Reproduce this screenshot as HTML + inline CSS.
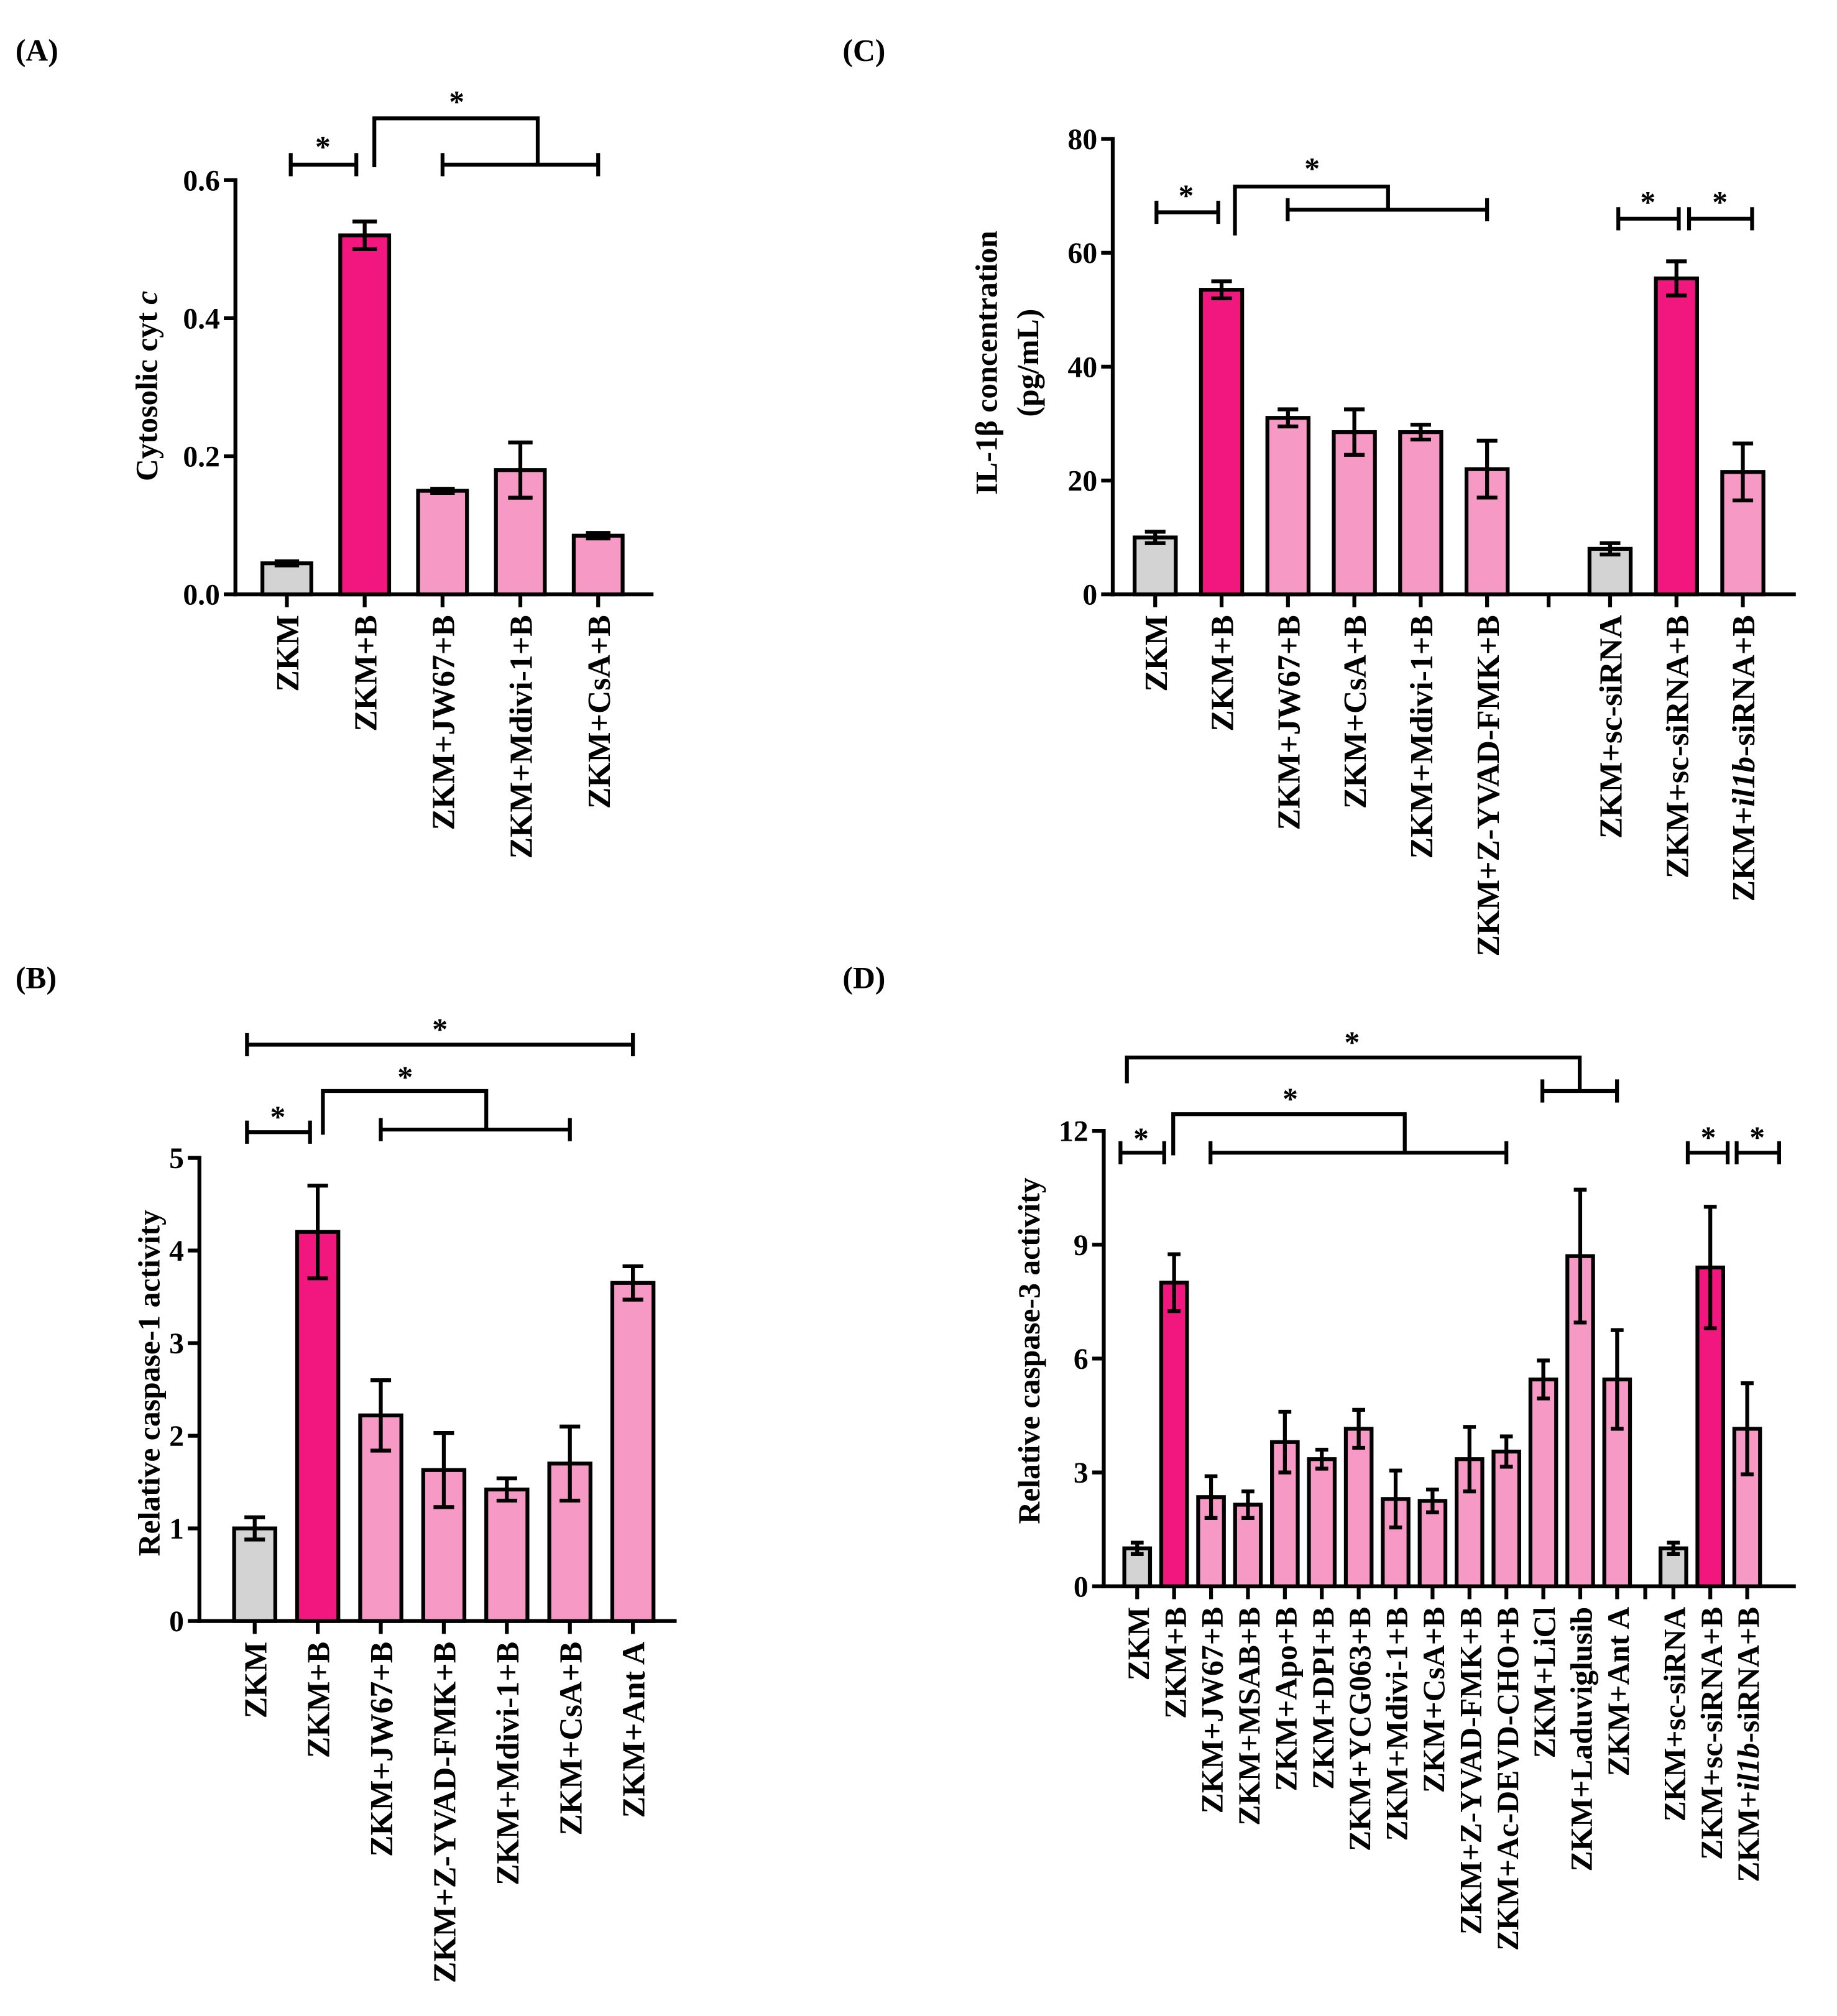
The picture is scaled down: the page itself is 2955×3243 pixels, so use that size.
<!DOCTYPE html>
<html><head><meta charset="utf-8"><style>
html,body{margin:0;padding:0;background:#fff;}
svg{display:block;font-family:"Liberation Serif",serif;font-weight:bold;}
</style></head><body>
<svg id="fig" width="2955" height="3243" viewBox="0 0 1428 1567" preserveAspectRatio="none" xmlns="http://www.w3.org/2000/svg">
<text x="12" y="47" font-size="24">(A)</text>
<text x="655" y="47" font-size="24">(C)</text>
<text x="12" y="768" font-size="24">(B)</text>
<text x="655" y="768" font-size="24">(D)</text>
</svg>
<script>
// Panel A data
const catsA=["ZKM","ZKM+B","ZKM+JW67+B","ZKM+Mdivi-1+B","ZKM+CsA+B"];
const valsA=[0.045,0.52,0.15,0.18,0.085];
const errA=[0.003,0.02,0.003,0.04,0.004];
const ticksA=[0,0.2,0.4,0.6];
const tickLabA=["0.0","0.2","0.4","0.6"];
// Panel C data
const catsC=["ZKM","ZKM+B","ZKM+JW67+B","ZKM+CsA+B","ZKM+Mdivi-1+B","ZKM+Z-YVAD-FMK+B","ZKM+sc-siRNA","ZKM+sc-siRNA+B","ZKM+il1b-siRNA+B"];
const valsC=[10,53.5,31,28.5,28.5,22,8,55.5,21.5];
const errC=[1,1.5,1.5,4,1.3,5,1,3,5];
const ticksC=[0,20,40,60,80];
const tickLabC=["0","20","40","60","80"];
// Panel B data
const catsB=["ZKM","ZKM+B","ZKM+JW67+B","ZKM+Z-YVAD-FMK+B","ZKM+Mdivi-1+B","ZKM+CsA+B","ZKM+Ant A"];
const valsB=[1,4.2,2.22,1.63,1.42,1.7,3.65];
const errB=[0.12,0.5,0.38,0.4,0.12,0.4,0.18];
const ticksB=[0,1,2,3,4,5];
const tickLabB=["0","1","2","3","4","5"];
// Panel D data
const catsD=["ZKM","ZKM+B","ZKM+JW67+B","ZKM+MSAB+B","ZKM+Apo+B","ZKM+DPI+B","ZKM+YCG063+B","ZKM+Mdivi-1+B","ZKM+CsA+B","ZKM+Z-YVAD-FMK+B","ZKM+Ac-DEVD-CHO+B","ZKM+LiCl","ZKM+Laduviglusib","ZKM+Ant A","ZKM+sc-siRNA","ZKM+sc-siRNA+B","ZKM+il1b-siRNA+B"];
const valsD=[1,8,2.35,2.15,3.8,3.35,4.15,2.3,2.25,3.35,3.55,5.45,8.7,5.45,1,8.4,4.15];
const errD=[0.15,0.75,0.55,0.35,0.8,0.25,0.5,0.75,0.3,0.85,0.4,0.5,1.75,1.3,0.15,1.6,1.2];
const ticksD=[0,3,6,9,12];
const tickLabD=["0","3","6","9","12"];

const NS="http://www.w3.org/2000/svg";
const svg=document.getElementById('fig');
function mk(tag,attrs,parent){const e=document.createElementNS(NS,tag);for(const k in attrs)e.setAttribute(k,attrs[k]);(parent||svg).appendChild(e);return e;}
const GRAY="#d3d3d3",HOT="#f2177f",LIGHT="#f799c5";
function colorFor(c){if(c==="ZKM"||c==="ZKM+sc-siRNA")return GRAY;if(c==="ZKM+B"||c==="ZKM+sc-siRNA+B")return HOT;return LIGHT;}

function chart(cfg,cats,vals,errs,ticks,tickLabs){
  const g=mk('g',{});
  
  
  const y=v=>cfg.y0-(v-ticks[0])/(ticks[ticks.length-1]-ticks[0])*(cfg.y0-cfg.yTop);
  const x=i=>cfg.x0+cfg.first+i*cfg.step+(cfg.gapAt!==undefined&&i>=cfg.gapAt?cfg.gap:0);
  const ya=mk('line',{x1:cfg.x0,y1:cfg.y0+1.5,x2:cfg.x0,y2:y(ticks[ticks.length-1])-1.5,stroke:'#000','stroke-width':3},g);
  
  
  const xa=mk('line',{x1:cfg.x0-1.5,y1:cfg.y0,x2:cfg.xEnd,y2:cfg.y0,stroke:'#000','stroke-width':3},g);
  
  
  ticks.forEach((t,i)=>{
    mk('line',{x1:cfg.x0-9,y1:y(t),x2:cfg.x0,y2:y(t),stroke:'#000','stroke-width':3},g);
    const tl=mk('text',{x:cfg.x0-12,y:y(t)+8,'font-size':23,'text-anchor':'end'},g);
    tl.textContent=tickLabs[i];
    
    
  });
  if(cfg.gapAt!==undefined){const gx=(x(cfg.gapAt-1)+x(cfg.gapAt))/2;mk('line',{x1:gx,y1:cfg.y0,x2:gx,y2:cfg.y0+10,stroke:'#000','stroke-width':3},g);}
  cats.forEach((c,i)=>{
    const cx=x(i),v=vals[i],e=errs[i];
    const b=mk('rect',{x:cx-cfg.bw/2,y:y(v),width:cfg.bw,height:cfg.y0-y(v),fill:colorFor(c),stroke:'#000','stroke-width':3},g);
    
    
    const cw=cfg.bw*0.5;
    mk('path',{d:`M${cx},${y(v+e)}V${y(v-e)}M${cx-cw/2},${y(v+e)}H${cx+cw/2}M${cx-cw/2},${y(v-e)}H${cx+cw/2}`,stroke:'#000','stroke-width':3,fill:'none'},g);
    mk('line',{x1:cx,y1:cfg.y0,x2:cx,y2:cfg.y0+10,stroke:'#000','stroke-width':3},g);
    const t=mk('text',{transform:`translate(${cx+9},${cfg.y0+16}) rotate(-90)`,'font-size':cfg.fs,'text-anchor':'end'},g);
    if(c.indexOf('il1b')>=0){t.appendChild(document.createTextNode('ZKM+'));const it=mk('tspan',{'font-style':'italic'},t);it.textContent='il1b';t.appendChild(document.createTextNode('-siRNA+B'));}
    else t.textContent=c;
    
    
  });
  cfg.ylab.forEach((s,k)=>{
    const t=mk('text',{transform:`translate(${cfg.ylx+k*32},${cfg.yly}) rotate(-90)`,'font-size':24,'text-anchor':'middle'},g);
    t.innerHTML=s;
    
    
  });
  return {x,y,g};
}
function bracket(g,x1,x2,yy){mk('path',{d:`M${x1},${yy-9}V${yy+9}M${x1},${yy}H${x2}M${x2},${yy-9}V${yy+9}`,stroke:'#000','stroke-width':3,fill:'none'},g);}
function star(g,xx,yy){const s=mk('text',{x:xx,y:yy,'font-size':24,'text-anchor':'middle'},g);s.textContent='*';}
function path(g,d){mk('path',{d,stroke:'#000','stroke-width':3,fill:'none'},g);}

// A
let A=chart({name:'chart-a',x0:183,y0:462,yTop:140,xEnd:508,first:40,step:60.5,bw:38,fs:25,ylab:['Cytosolic cyt <tspan font-style="italic">c</tspan>'],ylx:122,yly:300},catsA,valsA,errA,ticksA,tickLabA);
bracket(A.g,226,277,128);star(A.g,251,122);
path(A.g,'M291,130V92H418V128');bracket(A.g,344,465,128);star(A.g,355,87);

// C
let C=chart({name:'chart-c',x0:865,y0:462,yTop:108,xEnd:1396,first:33,step:51.6,bw:32,fs:25,gapAt:6,gap:44,ylab:['IL-1β concentration','(pg/mL)'],ylx:775,yly:282},catsC,valsC,errC,ticksC,tickLabC);
bracket(C.g,899,947,165);star(C.g,922,160);
path(C.g,'M960,183V145H1079V163');bracket(C.g,1001,1156,163);star(C.g,1020,139);
bracket(C.g,1258,1305,170);star(C.g,1281,165);
bracket(C.g,1313,1362,170);star(C.g,1337,165);

// B
let B=chart({name:'chart-b',x0:155,y0:1260,yTop:900,xEnd:526,first:43,step:49,bw:32,fs:25,ylab:['Relative caspase-1 activity'],ylx:124,yly:1075},catsB,valsB,errB,ticksB,tickLabB);
bracket(B.g,192,492,812);star(B.g,342,808);
bracket(B.g,192,241,880);star(B.g,216,876);
path(B.g,'M251,882V848H378V878');bracket(B.g,296,443,878);star(B.g,315,845);

// D
let D=chart({name:'chart-d',x0:858,y0:1233,yTop:879,xEnd:1396,first:26,step:28.7,bw:20,fs:24,gapAt:14,gap:15,ylab:['Relative caspase-3 activity'],ylx:808,yly:1050},catsD,valsD,errD,ticksD,tickLabD);
path(D.g,'M876,842V822H1228V848');bracket(D.g,1199,1257,848);star(D.g,1051,818);
bracket(D.g,871,905,896);star(D.g,887,893);
path(D.g,'M912,898V866H1092V896');bracket(D.g,941,1171,896);star(D.g,1003,862);
bracket(D.g,1312,1343,896);star(D.g,1328,892);
bracket(D.g,1350,1383,896);star(D.g,1366,892);
</script>
</body></html>
